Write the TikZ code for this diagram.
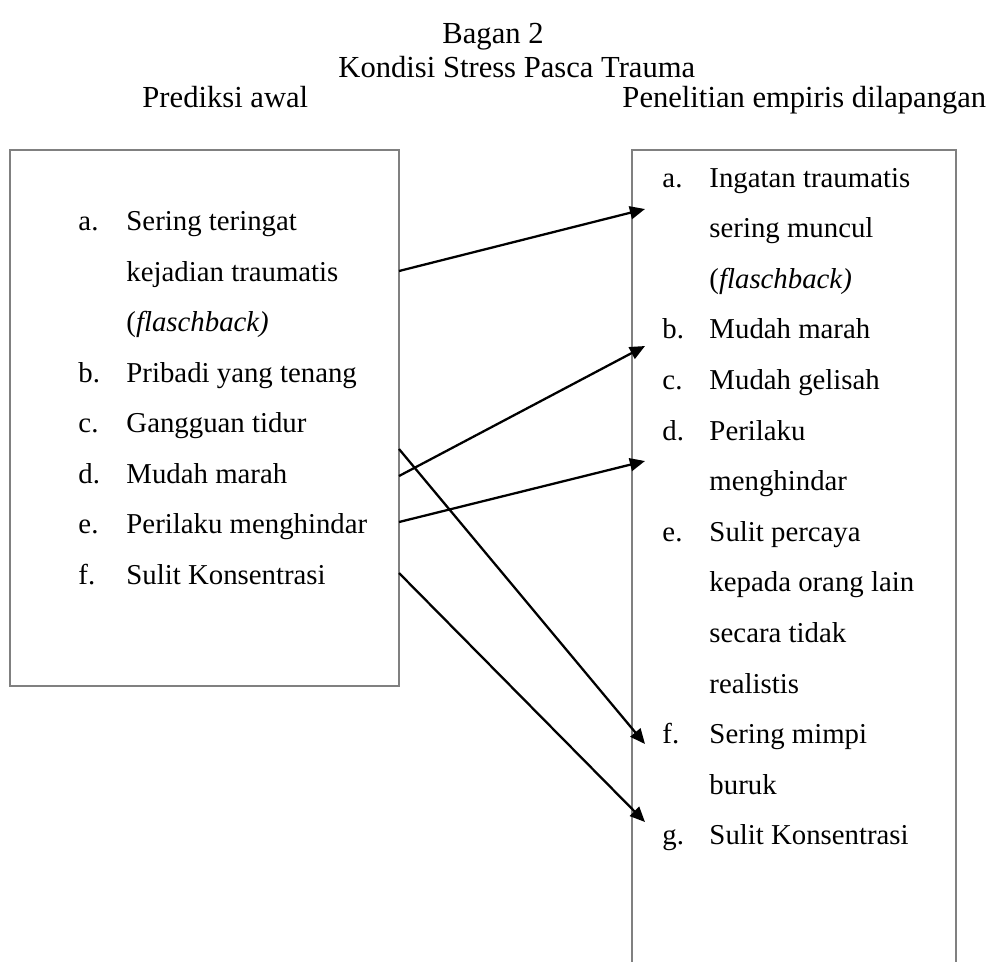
\documentclass[tikz,border=0pt]{standalone}
\usepackage{fontspec}
\setmainfont{Liberation Serif}
\usetikzlibrary{arrows.meta}

\begin{document}
\begin{tikzpicture}[x=0.41667pt,y=-0.41667pt,
   item/.style={anchor=base west,inner sep=0pt,font=\fontsize{12}{14}\selectfont},
   head/.style={anchor=base west,inner sep=0pt,font=\fontsize{12.75}{15}\selectfont},
   link/.style={-{Triangle[length=6.3pt,width=5.4pt]},line width=0.95pt},
   frame/.style={draw=gray,line width=0.45pt}]
   \useasboundingbox (0,0) rectangle (992,961);
   % judul
   \node[head] (judul) at (442,43) {Bagan 2};
   \node[head] (subjudul) at (338,77) {Kondisi Stress Pasca Trauma};
   \node[head] (kiri) at (142,107) {Prediksi awal};
   \node[head] (kanan) at (622,107) {Penelitian empiris dilapangan};
   % kotak kiri
   \draw[frame] (10,150) rectangle (399,686);
   \node[item] (la) at (78,230.7) {a.};
   \node[item] (la1) at (126,230.7) {Sering teringat};
   \node[item] (la2) at (126,281.2) {kejadian traumatis};
   \node[item] (la3) at (126,331.7) {(\textit{flaschback)}};
   \node[item] (lb) at (78,382.2) {b.};
   \node[item] (lb1) at (126,382.2) {Pribadi yang tenang};
   \node[item] (lc) at (78,432.7) {c.};
   \node[item] (lc1) at (126,432.7) {Gangguan tidur};
   \node[item] (ld) at (78,483.2) {d.};
   \node[item] (ld1) at (126,483.2) {Mudah marah};
   \node[item] (le) at (78,533.7) {e.};
   \node[item] (le1) at (126,533.7) {Perilaku menghindar};
   \node[item] (lf) at (78,584.2) {f.};
   \node[item] (lf1) at (126,584.2) {Sulit Konsentrasi};
   % kotak kanan (terbuka ke bawah)
   \draw[frame,line width=0.7pt] (632,965) -- (632,150) -- (956,150) -- (956,965);
   \node[item] (ra) at (662,187) {a.};
   \node[item] (ra1) at (709,187) {Ingatan traumatis};
   \node[item] (ra2) at (709,237.6) {sering muncul};
   \node[item] (ra3) at (709,288.2) {(\textit{flaschback)}};
   \node[item] (rb) at (662,338.8) {b.};
   \node[item] (rb1) at (709,338.8) {Mudah marah};
   \node[item] (rc) at (662,389.4) {c.};
   \node[item] (rc1) at (709,389.4) {Mudah gelisah};
   \node[item] (rd) at (662,440) {d.};
   \node[item] (rd1) at (709,440) {Perilaku};
   \node[item] (rd2) at (709,490.6) {menghindar};
   \node[item] (re) at (662,541.2) {e.};
   \node[item] (re1) at (709,541.2) {Sulit percaya};
   \node[item] (re2) at (709,591.8) {kepada orang lain};
   \node[item] (re3) at (709,642.4) {secara tidak};
   \node[item] (re4) at (709,693) {realistis};
   \node[item] (rf) at (662,743.6) {f.};
   \node[item] (rf1) at (709,743.6) {Sering mimpi};
   \node[item] (rf2) at (709,794.2) {buruk};
   \node[item] (rg) at (662,844.8) {g.};
   \node[item] (rg1) at (709,844.8) {Sulit Konsentrasi};
   % ujung panah
   \coordinate (dari-a) at (399,271);
   \coordinate (dari-c) at (399,449);
   \coordinate (dari-d) at (399,476);
   \coordinate (dari-e) at (399,522);
   \coordinate (dari-f) at (399,573);
   \coordinate (ke-a) at (645,209);
   \coordinate (ke-b) at (645,346);
   \coordinate (ke-d) at (645,461);
   \coordinate (ke-f) at (645,744);
   \coordinate (ke-g) at (645,822);
   \draw[link] (dari-a) -- (ke-a);
   \draw[link] (dari-d) -- (ke-b);
   \draw[link] (dari-e) -- (ke-d);
   \draw[link] (dari-c) -- (ke-f);
   \draw[link] (dari-f) -- (ke-g);
\end{tikzpicture}
\end{document}
